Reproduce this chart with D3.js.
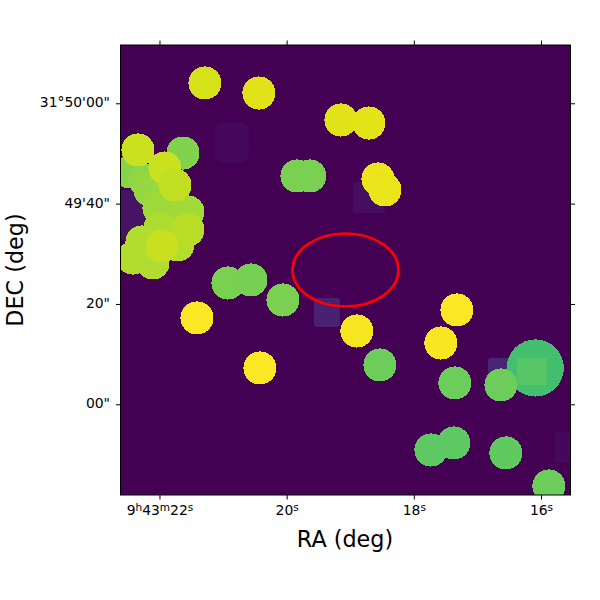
<html>
<head>
<title>RA DEC map</title>
<style>
    body { margin: 0; background: white; }
    text { font-family: "DejaVu Sans"; fill: black; }
</style>
</head>
<body>
<svg id="container" width="600" height="600"></svg>
<script src="https://d3js.org/d3.v7.min.js"></script>
<script>
// sources: RA seconds after 9h43m, DEC arcsec after 31d49m, colour level 0-1
const srcRa = [22.464,22.228,22.15,22.008,21.835,21.552,21.63,22.338,21.914,21.756,21.992,22.275,21.709,21.552,22.417,22.102,21.961,
    21.285,20.436,19.146,18.706,18.564,18.454,19.838,19.634,20.923,20.561,20.058,21.41,18.895,20.42,17.574,17.322,18.533,17.354,
    16.09,16.63,17.731,17.37,16.552,15.876]
const srcDec = [46.31,44.71,42.72,39.13,37.73,38.33,50.09,50.69,47.1,43.71,35.14,32.35,31.76,34.75,29.16,28.17,31.56,
    64.05,62.05,56.67,56.07,44.91,42.72,45.51,45.51,24.18,24.78,20.79,17.21,14.61,7.24,12.22,18.8,7.84,4.25,
    7.24,3.85,-9.11,-7.71,-9.7,-16.28]
const srcLevel = [.82,.83,.84,.855,.855,.86,.81,.92,.92,.91,.875,.88,.885,.895,.885,.88,.915,
    .935,.95,.95,.955,.97,.965,.8,.8,.8,.79,.8,1,.985,1,.99,1,.775,.775,
    .7,.775,.75,.75,.755,.775]
// radius of each source in arcsec
const srcRadius = [3.3,3.3,3.3,3.3,3.3,3.3,3.3,3.3,3.3,3.3,3.3,3.3,3.3,3.3,3.3,3.3,3.3,
    3.3,3.3,3.3,3.3,3.3,3.3,3.3,3.3,3.3,3.3,3.3,3.3,3.3,3.3,3.3,3.3,3.3,3.3,
    5.7,3.3,3.3,3.3,3.3,3.3]

// faint patches, drawn under the sources
const patchRa0 = [21.127,18.958,19.571,16.835,15.795,22.613]
const patchRa1 = [20.593,18.454,19.162,16.395,15.54,22.228]
const patchDec0 = [56.27,44.31,21.19,9.23,-5.52,42.72]
const patchDec1 = [48.1,38.13,15.41,3.85,-11.7,32.76]
const patchLevel = [.02,.035,.09,.1,.02,.05]

// brighter patch sitting on the big source
const brightPatch = [16.379,15.907,9.23,3.85,.735]

// region ellipse: RA, DEC, half width (s), half height (arcsec)
const region = [19.075,26.77,.833,7.28]

const xTicks = [22,20,18,16]
const xTickLabels = [["9","h","43","m","22","s"],["20","s"],["18","s"],["16","s"]]
const yTicks = [60,40,20,0]
const yTickLabels = ["31°50'00\"","49'40\"","20\"","00\""]

let svg = d3.select("#container")
let left = 120.5, right = 570.5, top_ = 45, bottom = 495

let x = d3.scaleLinear().domain([22.613,15.536]).range([left,right])
let y = d3.scaleLinear().domain([71.62,-18.08]).range([top_,bottom])
let color = d3.interpolateViridis
let rScale = d => Math.abs(y(d) - y(0))

svg.append("clipPath").attr("id","plotClip").append("rect")
    .attr("x",left).attr("y",top_).attr("width",right-left).attr("height",bottom-top_)

svg.append("rect")
    .attr("x",left).attr("y",top_).attr("width",right-left).attr("height",bottom-top_)
    .attr("fill",color(0))

let body = svg.append("g").attr("clip-path","url(#plotClip)")

body.selectAll(".patch")
    .data(patchRa0.map((d,i) => i))
    .enter().append("rect")
    .attr("class","patch")
    .attr("x",i => x(patchRa0[i]))
    .attr("y",i => y(patchDec0[i]))
    .attr("width",i => x(patchRa1[i]) - x(patchRa0[i]))
    .attr("height",i => y(patchDec1[i]) - y(patchDec0[i]))
    .attr("rx",i => i == 0 ? 8 : 3)
    .attr("fill",i => color(patchLevel[i]))

body.selectAll(".src")
    .data(srcRa.map((d,i) => i))
    .enter().append("circle")
    .attr("class","src")
    .attr("cx",i => x(srcRa[i]))
    .attr("cy",i => y(srcDec[i]))
    .attr("r",i => rScale(srcRadius[i]))
    .attr("fill",i => color(srcLevel[i]))
    .attr("shape-rendering","crispEdges")

// bright patch goes right after the big source so the neighbour stays on top
let bigIndex = srcRadius.indexOf(5.7)
let nextNode = body.selectAll(".src").nodes()[bigIndex + 1]
body.insert("rect",() => nextNode)
    .attr("x",x(brightPatch[0]))
    .attr("y",y(brightPatch[2]))
    .attr("width",x(brightPatch[1]) - x(brightPatch[0]))
    .attr("height",y(brightPatch[3]) - y(brightPatch[2]))
    .attr("rx",2)
    .attr("fill",color(brightPatch[4]))

body.append("ellipse")
    .attr("cx",x(region[0]))
    .attr("cy",y(region[1]))
    .attr("rx",x(region[0]) - x(region[0]+region[2]))
    .attr("ry",rScale(region[3]))
    .attr("fill","none")
    .attr("stroke","#ff0000")
    .attr("stroke-width",2.7)

let xAxis = d3.axisBottom(x).tickValues(xTicks).tickSize(4.5).tickSizeOuter(0).tickPadding(6).tickFormat("")
let yAxis = d3.axisLeft(y).tickValues(yTicks).tickSize(4.5).tickSizeOuter(0).tickPadding(6)
    .tickFormat((d,i) => yTickLabels[i])

let gx = svg.append("g").attr("transform",`translate(0,${bottom})`).call(xAxis)
svg.append("g").attr("transform",`translate(0,${top_})`)
    .call(d3.axisTop(x).tickValues(xTicks).tickSize(4.5).tickSizeOuter(0).tickFormat(""))
let gy = svg.append("g").attr("transform",`translate(${left},0)`).call(yAxis)
svg.append("g").attr("transform",`translate(${right},0)`)
    .call(d3.axisRight(y).tickValues(yTicks).tickSize(4.5).tickSizeOuter(0).tickFormat(""))

svg.selectAll(".domain").remove()
svg.selectAll(".tick line").attr("stroke","black").attr("stroke-width",1)
gy.selectAll("text")
    .attr("y",-1)
    .style("font-size","13.9px").style("font-family","DejaVu Sans").attr("fill","black")

// x labels carry superscript units
gx.selectAll(".tick").each(function(d,i) {
    let t = d3.select(this).select("text")
        .attr("y",20).attr("dy",null)
        .style("font-size","13.9px").style("font-family","DejaVu Sans").attr("fill","black")
        .text(null)
    xTickLabels[i].forEach((part,j) => {
        let isSup = j % 2 == 1
        t.append("tspan")
            .attr("dy",isSup ? -4 : (j > 0 ? 4 : 0))
            .style("font-size",isSup ? "10.5px" : "13.9px")
            .text(part)
    })
})

svg.append("rect")
    .attr("x",left).attr("y",top_).attr("width",right-left).attr("height",bottom-top_)
    .attr("fill","none").attr("stroke","black").attr("stroke-width",1)

svg.append("text")
    .attr("x",345).attr("y",547)
    .attr("text-anchor","middle")
    .style("font-size","22.3px")
    .text("RA (deg)")

svg.append("text")
    .attr("transform","translate(23,270) rotate(-90)")
    .attr("text-anchor","middle")
    .style("font-size","22.3px")
    .text("DEC (deg)")
</script>
</body>
</html>
